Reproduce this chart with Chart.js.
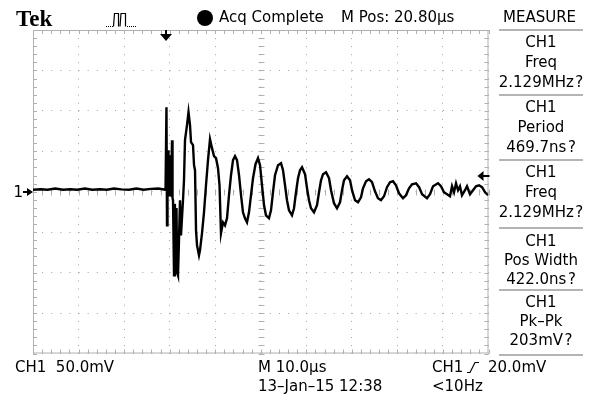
<!DOCTYPE html>
<html><head><meta charset="utf-8">
<script src="https://cdn.jsdelivr.net/npm/chart.js@4/dist/chart.umd.min.js"></script>
<style>
html,body{margin:0;padding:0;background:#fff;}
#wrap{position:relative;width:594px;height:401px;overflow:hidden;font-family:"DejaVu Sans",sans-serif;font-size:15px;color:#000;}
canvas{position:absolute;left:0;top:0;}
.t{position:absolute;line-height:15px;white-space:pre;}
.c{position:absolute;line-height:15px;left:496px;width:90px;text-align:center;white-space:pre;}
.sep{position:absolute;left:499px;width:84px;height:0;border-top:2px solid #b4b4b4;}
</style></head><body>
<div id="wrap">
<canvas id="c" width="594" height="401"></canvas>
<div class="t" style="left:16px;top:7px;font-family:'Liberation Serif',serif;font-weight:bold;font-size:23px;line-height:23px;">Tek</div>
<svg style="position:absolute;left:104px;top:10px" width="38" height="18">
 <path d="M2 16.5h1M4 16.5h1M6 16.5h1M8 16.5h1" stroke="#000" stroke-width="1"/>
 <path d="M9.5 16.5L10.5 3.5H14.5V16.5M16 16.5L17 3.5H21.5V16.5" stroke="#000" fill="none" stroke-width="1.2"/>
 <path d="M23 16.5h1M25 16.5h1M27 16.5h1M29 16.5h1M31 16.5h1" stroke="#000" stroke-width="1"/>
</svg>
<div style="position:absolute;left:197px;top:10px;width:16px;height:16px;border-radius:50%;background:#000"></div>
<div class="t" style="left:219px;top:10px">Acq Complete</div>
<div class="t" style="left:341px;top:10px">M Pos: 20.80µs</div>
<div class="t" style="left:503px;top:10px">MEASURE</div>
<div class="sep" style="top:29px"></div>
<div class="c" style="top:35px">CH1</div><div class="c" style="top:55px">Freq</div><div class="c" style="top:75px">2.129MHz&#8202;?</div>
<div class="sep" style="top:94px"></div>
<div class="c" style="top:100px">CH1</div><div class="c" style="top:120px">Period</div><div class="c" style="top:140px">469.7ns&#8202;?</div>
<div class="sep" style="top:159px"></div>
<div class="c" style="top:165px">CH1</div><div class="c" style="top:185px">Freq</div><div class="c" style="top:205px">2.129MHz&#8202;?</div>
<div class="sep" style="top:227px"></div>
<div class="c" style="top:234px">CH1</div><div class="c" style="top:253px">Pos Width</div><div class="c" style="top:272px">422.0ns&#8202;?</div>
<div class="sep" style="top:289px"></div>
<div class="c" style="top:295px">CH1</div><div class="c" style="top:314px">Pk–Pk</div><div class="c" style="top:333px">203mV&#8202;?</div>
<div class="sep" style="top:354px"></div>
<div class="t" style="left:15px;top:360px">CH1  50.0mV</div>
<div class="t" style="left:258px;top:360px">M 10.0µs</div>
<div class="t" style="left:258px;top:379px">13–Jan–15 12:38</div>
<div class="t" style="left:432px;top:360px">CH1</div>
<svg style="position:absolute;left:466px;top:361px" width="14" height="13"><path d="M1 11.5H4L9 1.5H13" stroke="#000" fill="none" stroke-width="1.2"/></svg>
<div class="t" style="left:488px;top:360px">20.0mV</div>
<div class="t" style="left:432px;top:379px">&lt;10Hz</div>
</div>
<script>
// Horizontal: µs relative to trigger (M Pos 20.80 µs => screen centre 20.8 µs after trigger)
const timeDivUs = 10;
const timeMinUs = -29.2;
const timeMaxUs = 70.8;
// Vertical: CH1 mV, 50 mV/div, 8 divisions
const voltDivMv = 50;
const voltMinMv = -200;
const voltMaxMv = 200;
const triggerTimeUs = 0;
const triggerLevelMv = 20;
const ch1GroundMv = 0;

const timeUs = [
 -29.2,-27.5,-26,-24.3,-22.6,-21,-19.5,-17.8,-16.2,-14.5,-13,-11.4,-9.8,-8.1,-6.5,-4.9,-3.3,-1.7,-0.1,
 0.1,0.22,0.33,0.44,0.55,0.66,0.77,0.88,0.99,1.1,1.21,1.32,1.43,1.54,1.76,1.95,2.1,2.3,2.45,
 2.63,2.85,3.07,3.29,3.73,3.95,4.17,4.61,4.94,5.27,
 5.49,5.93,6.15,6.37,6.59,6.81,7.24,7.46,7.9,8.34,
 8.78,9.22,9.66,10.1,10.54,10.98,11.42,11.75,12.07,12.51,
 12.95,13.39,13.83,14.27,14.71,15.15,15.59,16.03,16.47,16.9,
 17.34,17.78,18.22,18.66,19.1,19.65,20.2,20.64,21.08,21.52,
 21.95,22.61,23.05,23.49,23.93,24.59,25.25,25.69,26.13,26.56,
 27,27.66,28.1,28.54,28.98,29.42,29.86,30.52,30.96,31.39,
 31.83,32.49,33.15,33.59,34.03,34.47,35.13,35.79,36.23,36.88,
 37.54,38.2,38.64,39.08,39.74,40.4,40.84,41.5,42.15,42.81,
 43.25,43.91,44.57,45.23,45.88,46.54,47.2,47.86,48.52,49.18,
 49.84,50.49,51.15,52.03,52.69,53.35,54.01,54.9,55.56,56.22,
 57.3,57.96,58.62,59.72,60.37,61.03,62.35,62.79,63.23,63.67,
 64.11,64.54,64.98,65.64,66.08,66.74,67.4,68.06,68.72,69.38,
 70.04,70.7
];
const ch1Mv = [
 2.5,3,2.5,4,2.5,3,2.5,4,2.5,3,2.5,4,3,2.5,4,2.5,3.5,4,2.5,
 104.6,-41.5,40,51.4,-2,-4.3,45,39,-6,1.9,30,63.8,-8,-10.5,-103.4,-15,-99.7,-20,-100,
 -103.4,-60,-10.5,-53.9,-10.5,14.2,63.8,82.4,98.5,82.4,
 61.3,57.6,32.8,26.6,-47.7,-66.3,-78.6,-72.4,-51.4,-25.4,
 8,39,65,53.9,44,41.5,29.1,8,-51.4,-37.8,
 -41.5,-32.8,-4.3,20.4,39,44,39,20.4,-4.3,-25.4,
 -32.8,-37.8,-25.4,-4.3,16.7,34.1,41.5,32.8,8,-16.7,
 -29.1,-32.8,-22.9,-0.6,20.4,32.8,35.3,26.6,8,-10.5,
 -22.9,-29.1,-20.4,-0.6,16.7,26.6,30.3,21.7,4.3,-10.5,
 -20.4,-25.4,-16.7,-0.6,14.2,21.7,24.1,16.7,1.9,-14.2,
 -20.4,-13,1.9,14.2,19.2,14.2,1.9,-10.5,-13,-6.8,
 4.3,13,15.5,11.8,0.6,-8,-10.5,-5.6,5.6,11.8,
 13,8,-1.9,-8,-4.3,4.3,9.3,10.5,5.6,-3.1,
 -8,-3.1,6.8,10.5,6.8,-0.6,-5.6,6.8,-0.6,10.5,
 1.9,6.8,-4.3,1.9,6.8,-3.1,1.9,6.8,8,5.6,
 -0.6,-4.3
];

const points = timeUs.map((t, i) => ({x: t, y: ch1Mv[i]}));
const xDivs = Math.round((timeMaxUs - timeMinUs) / timeDivUs);
const yDivs = Math.round((voltMaxMv - voltMinMv) / voltDivMv);

const graticule = {
  id: 'graticule',
  beforeDatasetsDraw(chart) {
    const {ctx, chartArea: a, scales: {x, y}} = chart;
    ctx.save();
    ctx.strokeStyle = '#b0b0b0';
    ctx.lineWidth = 1;
    ctx.strokeRect(a.left + 0.5, a.top + 0.5, a.right - a.left - 1, a.bottom - a.top - 1);
    const xc = Math.round(x.getPixelForValue((timeMinUs + timeMaxUs) / 2)) + 0.5;
    const yc = Math.round(y.getPixelForValue((voltMinMv + voltMaxMv) / 2)) + 0.5;
    ctx.beginPath();
    for (let i = 0; i <= xDivs * 5; i++) {
      const px = Math.round(x.getPixelForValue(timeMinUs + i * timeDivUs / 5)) + 0.5;
      ctx.moveTo(px, a.top); ctx.lineTo(px, a.top + 4);
      ctx.moveTo(px, a.bottom); ctx.lineTo(px, a.bottom - 4);
      ctx.moveTo(px, yc - 3); ctx.lineTo(px, yc + 3);
    }
    for (let i = 0; i <= yDivs * 5; i++) {
      const py = Math.round(y.getPixelForValue(voltMinMv + i * voltDivMv / 5)) + 0.5;
      ctx.moveTo(a.left, py); ctx.lineTo(a.left + 4, py);
      ctx.moveTo(a.right, py); ctx.lineTo(a.right - 4, py);
      ctx.moveTo(xc - 3, py); ctx.lineTo(xc + 3, py);
    }
    ctx.stroke();
    ctx.restore();
  },
  afterDraw(chart) {
    const {ctx, chartArea: a, scales: {x, y}} = chart;
    ctx.save();
    ctx.fillStyle = '#000'; ctx.strokeStyle = '#000';
    // trigger position marker
    const tx = Math.round(x.getPixelForValue(triggerTimeUs));
    ctx.fillRect(tx - 1, a.top, 2, 6);
    ctx.beginPath(); ctx.moveTo(tx - 6, a.top + 4); ctx.lineTo(tx + 6, a.top + 4); ctx.lineTo(tx, a.top + 11); ctx.closePath(); ctx.fill();
    // trigger level marker
    const ty = Math.round(y.getPixelForValue(triggerLevelMv));
    ctx.fillRect(a.right - 7, ty - 1, 8, 2);
    ctx.beginPath(); ctx.moveTo(a.right - 11, ty); ctx.lineTo(a.right - 5, ty - 5); ctx.lineTo(a.right - 5, ty + 5); ctx.closePath(); ctx.fill();
    // CH1 ground marker
    const gy = Math.round(y.getPixelForValue(ch1GroundMv));
    ctx.font = '15px "DejaVu Sans", sans-serif';
    ctx.textAlign = 'right'; ctx.textBaseline = 'middle';
    ctx.fillText('1', a.left - 10, gy + 1);
    ctx.fillRect(a.left - 10, gy - 1, 6, 2);
    ctx.beginPath(); ctx.moveTo(a.left, gy); ctx.lineTo(a.left - 6, gy - 4); ctx.lineTo(a.left - 6, gy + 4); ctx.closePath(); ctx.fill();
    ctx.restore();
  }
};

new Chart(document.getElementById('c'), {
  type: 'line',
  data: { datasets: [{ data: points, borderColor: '#000', borderWidth: 2.4, pointRadius: 0, tension: 0, fill: false }] },
  options: {
    responsive: false, animation: false, devicePixelRatio: 1,
    layout: { autoPadding: false, padding: { left: 33, top: 30, right: 105.5, bottom: 47.5 } },
    plugins: { legend: { display: false }, tooltip: { enabled: false } },
    scales: {
      x: {
        type: 'linear', min: timeMinUs, max: timeMaxUs,
        afterBuildTicks: s => { s.ticks = Array.from({length: xDivs + 1}, (_, i) => ({value: timeMinUs + i * timeDivUs})); },
        ticks: { display: false },
        grid: { color: '#a0a0a0', lineWidth: 1, drawTicks: false },
        border: { display: false, dash: [1, 7.08] }
      },
      y: {
        min: voltMinMv, max: voltMaxMv,
        afterBuildTicks: s => { s.ticks = Array.from({length: yDivs + 1}, (_, i) => ({value: voltMinMv + i * voltDivMv})); },
        ticks: { display: false },
        grid: { color: '#a0a0a0', lineWidth: 1, drawTicks: false },
        border: { display: false, dash: [1, 8.11] }
      }
    }
  },
  plugins: [graticule]
});
</script>
</body></html>
